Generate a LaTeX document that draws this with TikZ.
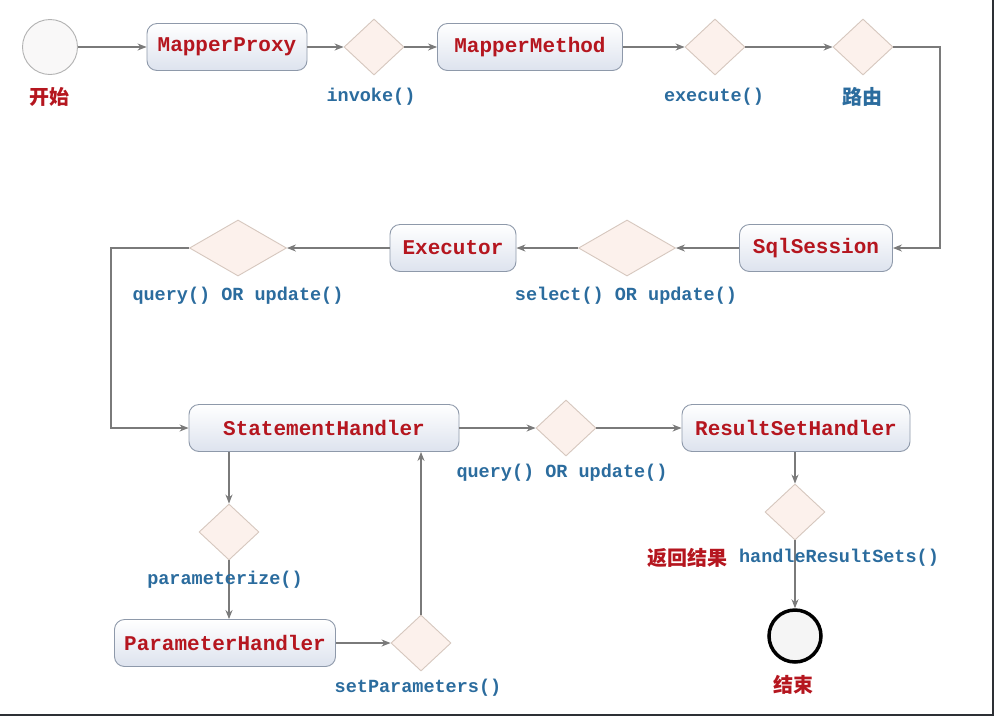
\documentclass[tikz,border=0pt]{standalone}
\usepackage{fontspec}
\setmonofont{Liberation Mono}
\newfontfamily\cjk{Noto Sans CJK SC}
\usetikzlibrary{shapes.geometric,positioning,arrows.meta}
\definecolor{boxred}{HTML}{B5161F}
\definecolor{lblblue}{HTML}{2B6C9E}
\definecolor{linegray}{HTML}{7A7A7A}
\definecolor{boxedge}{HTML}{8E99AA}
\definecolor{boxlow}{HTML}{DDE3EE}
\definecolor{dfill}{HTML}{FCF1EC}
\definecolor{dedge}{HTML}{D6C7BE}
\definecolor{framedark}{HTML}{2D3035}
\begin{document}
\begin{tikzpicture}[x=1pt,y=-1pt,>={Stealth[length=9pt,width=7pt]},
proc/.style = {draw=boxedge, line width=0.9pt, rounded corners=10pt, top color=white, bottom color=boxlow, minimum height=47pt, inner sep=0pt, font=\ttfamily\bfseries\fontsize{21}{24}\selectfont, text=boxred},
decide/.style = {diamond, draw=dedge, line width=0.9pt, fill=dfill, inner sep=0pt, minimum width=60pt, minimum height=56pt},
lbl/.style = {font=\ttfamily\bfseries\fontsize{18.5}{22}\selectfont, text=lblblue, inner sep=0pt},
zh/.style = {font=\cjk\bfseries\fontsize{20}{24}\selectfont, text=boxred, inner sep=0pt},
flow/.style = {->, draw=linegray, line width=1.1pt},]
\useasboundingbox (0,0) rectangle (994,716);
\fill[white] (0,0) rectangle (994,716);
\fill[framedark] (992,0) rectangle (994,716);
\fill[framedark] (0,714) rectangle (994,716);
%Top row
\node (start) at (50,47)[circle, draw=gray!60, line width=0.9pt, fill=yellow!2!black!3, minimum size=55pt, inner sep=0pt] {};
\node (tstart) at (49,97)[zh] {开始};
\node (proxy) at (227,47)[proc, minimum width=160pt] {MapperProxy};
\node (d1) at (374,47)[decide] {};
\node (t1) at (371,97)[lbl] {invoke()};
\node (method) at (530,47)[proc, minimum width=185pt] {MapperMethod};
\node (d2) at (715,47)[decide] {};
\node (t2) at (714,97)[lbl] {execute()};
\node (d3) at (863,47)[decide] {};
\node (t3) at (862,97)[zh, text=lblblue] {路由};
\coordinate (c1) at (940,47);
%Middle row
\node (sqls) at (816,248)[proc, minimum width=153pt] {SqlSession};
\node (d4) at (627,248)[decide, minimum width=97pt] {};
\node (t4) at (626,296)[lbl] {select() OR update()};
\node (exec) at (453,248)[proc, minimum width=126pt] {Executor};
\node (d5) at (238,248)[decide, minimum width=97pt] {};
\node (t5) at (238,296)[lbl] {query() OR update()};
\coordinate (c2) at (111,248);
%Bottom rows
\node (sh) at (324,428)[proc, minimum width=270pt] {StatementHandler};
\node (d6) at (566,428)[decide] {};
\node (t6) at (562,473)[lbl] {query() OR update()};
\node (rsh) at (796,428)[proc, minimum width=228pt] {ResultSetHandler};
\node (d7) at (795,512)[decide] {};
\node (end) at (795,636)[circle, draw=black, line width=3.5pt, fill=black!4, minimum size=52pt, inner sep=0pt] {};
\node (tend) at (793,685)[zh] {结束};
\node (d8) at (229,532)[decide] {};
\node (ph) at (225,643)[proc, minimum width=221pt] {ParameterHandler};
\node (d9) at (421,643)[decide] {};
\node (t9) at (418,688)[lbl] {setParameters()};
%Connectors
\draw[flow] (start) -- (proxy);
\draw[flow] (proxy) -- (d1);
\draw[flow] (d1) -- (method);
\draw[flow] (method) -- (d2);
\draw[flow] (d2) -- (d3);
\draw[flow] (d3) -- (c1) |- (sqls);
\draw[flow] (sqls) -- (d4);
\draw[flow] (d4) -- (exec);
\draw[flow] (exec) -- (d5);
\draw[flow] (d5) -- (c2) |- (sh);
\draw[flow] (sh) -- (d6);
\draw[flow] (d6) -- (rsh);
\draw[flow] (rsh.south -| d7) -- (d7);
\draw[flow] (d7) -- (end);
\draw[flow] (sh.south -| d8) -- (d8);
\draw[flow] (d8) -- (d8 |- ph.north);
\draw[flow] (ph) -- (d9);
\draw[flow] (d9) -- (d9 |- sh.south);
%Labels on the lines
\node (t8) at (225,580)[lbl] {parameterize()};
\node (t7a) at (687,558)[zh] {返回结果};
\node (t7b) at (839,558)[lbl] {handleResultSets()};
\end{tikzpicture}
\end{document}
